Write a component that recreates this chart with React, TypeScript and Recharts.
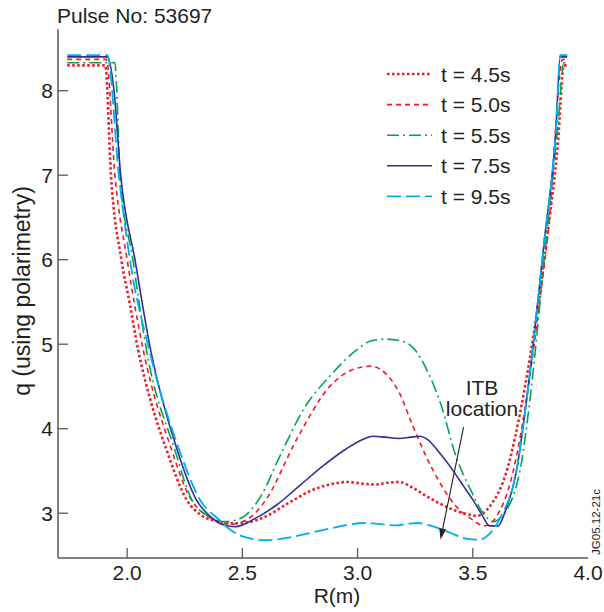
import { LineChart, Line, XAxis, YAxis, ReferenceLine } from 'recharts';

// R (m), q pairs
const t45: [number, number][] = [
  [1.74, 8.3], [1.905, 8.3], [1.93, 7.0], [1.975, 6.0], [2.01, 5.5], [2.048, 4.93], [2.1, 4.35],
  [2.171, 3.75], [2.258, 3.16], [2.32, 2.98], [2.38, 2.91], [2.45, 2.88], [2.52, 2.89], [2.6, 2.96],
  [2.7, 3.12], [2.8, 3.27], [2.88, 3.34], [2.96, 3.37], [3.02, 3.35], [3.08, 3.34], [3.13, 3.36],
  [3.18, 3.37], [3.24, 3.3], [3.3, 3.2], [3.39, 3.07], [3.46, 3.0], [3.52, 2.97], [3.573, 3.08],
  [3.645, 3.48], [3.724, 4.46], [3.821, 6.24], [3.87, 7.4], [3.895, 8.3], [3.91, 8.3],
];
const t50: [number, number][] = [
  [1.74, 8.37], [1.91, 8.37], [1.947, 7.0], [2.0, 6.0], [2.07, 4.93], [2.193, 3.75], [2.27, 3.2],
  [2.33, 3.0], [2.4, 2.9], [2.45, 2.87], [2.518, 2.92], [2.6, 3.15], [2.735, 3.87], [2.879, 4.5],
  [2.98, 4.7], [3.06, 4.74], [3.1, 4.7], [3.182, 4.42], [3.24, 4.03], [3.327, 3.51], [3.428, 3.08],
  [3.5, 2.92], [3.55, 2.85], [3.6, 2.95], [3.674, 3.48], [3.73, 4.3], [3.79, 5.5], [3.83, 6.4],
  [3.89, 8.37], [3.91, 8.37],
];
const t55: [number, number][] = [
  [1.74, 8.33], [1.947, 8.33], [1.955, 8.0], [1.969, 7.0], [2.025, 6.0], [2.084, 4.93], [2.207, 3.75],
  [2.28, 3.16], [2.35, 2.97], [2.43, 2.9], [2.5, 2.95], [2.58, 3.2], [2.662, 3.67], [2.77, 4.25],
  [2.879, 4.62], [2.995, 4.93], [3.06, 5.04], [3.125, 5.06], [3.2, 5.03], [3.25, 4.93], [3.3, 4.7],
  [3.36, 4.3], [3.43, 3.65], [3.49, 3.28], [3.54, 3.02], [3.59, 2.9], [3.62, 2.95], [3.703, 3.48],
  [3.753, 4.46], [3.818, 6.24], [3.87, 7.6], [3.895, 8.33], [3.91, 8.33],
];
const t75: [number, number][] = [
  [1.74, 8.4], [1.914, 8.4], [1.943, 8.0], [1.972, 7.0], [2.034, 6.0], [2.102, 4.93],
  [2.217, 3.75], [2.3, 3.16], [2.37, 2.94], [2.42, 2.86], [2.47, 2.84], [2.55, 2.93], [2.65, 3.1],
  [2.75, 3.33], [2.85, 3.56], [2.95, 3.76], [3.02, 3.87], [3.067, 3.91], [3.12, 3.9], [3.18, 3.885],
  [3.23, 3.9], [3.27, 3.91], [3.3, 3.88], [3.36, 3.7], [3.413, 3.51], [3.46, 3.32], [3.5, 3.16],
  [3.54, 2.98], [3.573, 2.85], [3.61, 2.85], [3.638, 3.0], [3.688, 3.48], [3.739, 4.46], [3.811, 6.24],
  [3.86, 7.5], [3.88, 8.4], [3.91, 8.4],
];
const t95: [number, number][] = [
  [1.74, 8.42], [1.914, 8.42], [1.964, 7.0], [2.012, 6.0], [2.096, 4.93], [2.226, 3.75], [2.316, 3.16],
  [2.4, 2.92], [2.45, 2.8], [2.52, 2.71], [2.6, 2.68], [2.7, 2.71], [2.8, 2.77], [2.9, 2.83],
  [2.97, 2.87], [3.038, 2.884], [3.1, 2.87], [3.168, 2.856], [3.22, 2.875], [3.262, 2.884], [3.32, 2.85],
  [3.4, 2.77], [3.47, 2.7], [3.529, 2.686], [3.57, 2.75], [3.62, 2.95], [3.688, 3.48], [3.739, 4.46],
  [3.811, 6.24], [3.86, 7.5], [3.88, 8.42], [3.91, 8.42],
];

const rTicks = [2.0, 2.5, 3.0, 3.5, 4.0];
const qTicks = [3, 4, 5, 6, 7, 8];
const labels = ['t = 4.5s', 't = 5.0s', 't = 5.5s', 't = 7.5s', 't = 9.5s'];

// ITB arrow, tail -> head, in (R, q)
const itbArrow = [{ x: 3.46, y: 4.02 }, { x: 3.36, y: 2.69 }];

const profiles = [t45, t50, t55, t75, t95];
const styles = [
  { color: '#ed1c24', dash: '2.5 2.5', width: 2.6 },
  { color: '#ed1c24', dash: '5 4', width: 1.6 },
  { color: '#00a651', dash: '12 4 2 4', width: 1.6 },
  { color: '#2e3192', dash: undefined, width: 1.6 },
  { color: '#00aeef', dash: '14 5', width: 1.8 },
];

const FONT = '"Liberation Sans", Arial, Helvetica, sans-serif';
const INK = '#231f20';
const FRAME = '#58595b';

const toPts = (arr: [number, number][]) => arr.map(([r, q]) => ({ r, q }));

const XTick = (p: any) => {
  const { x, y, payload } = p;
  const ay = y - 6;
  return (
    <g>
      {payload.value < 3.9 && <line x1={x} x2={x} y1={ay} y2={ay - 10} stroke={FRAME} strokeWidth={1.3} />}
      <text x={x} y={y} dy="0.74em" textAnchor="middle" fontSize={21} fontFamily={FONT} fill={INK}>
        {payload.value.toFixed(1)}
      </text>
    </g>
  );
};

const YTick = (p: any) => {
  const { x, y, payload } = p;
  const ax = x + 5;
  return (
    <g>
      <line x1={ax} x2={ax + 10} y1={y} y2={y} stroke={FRAME} strokeWidth={1.3} />
      <text x={x} y={y} dy="0.36em" textAnchor="end" fontSize={21} fontFamily={FONT} fill={INK}>
        {payload.value}
      </text>
    </g>
  );
};

const Arrow = (p: any) => {
  const { x1, y1, x2, y2 } = p;
  const a = Math.atan2(y2 - y1, x2 - x1);
  const L = 11, W = 3.5;
  const bx = x2 - L * Math.cos(a), by = y2 - L * Math.sin(a);
  const nx = -Math.sin(a) * W, ny = Math.cos(a) * W;
  return (
    <g>
      <line x1={x1} y1={y1} x2={bx} y2={by} stroke={INK} strokeWidth={1.1} />
      <polygon points={`${x2},${y2} ${bx + nx},${by + ny} ${bx - nx},${by - ny}`} fill={INK} />
    </g>
  );
};

export default function App() {
  return (
    <div style={{ position: 'absolute', left: 0, top: 0, width: 604, height: 612, background: '#fff' }}>
      <LineChart width={604} height={612} margin={{ top: 29, right: 16, bottom: 0, left: 0 }}>
        <XAxis
          dataKey="r"
          type="number"
          domain={[1.7, 4.0]}
          ticks={rTicks}
          allowDataOverflow
          height={54}
          tickSize={0}
          tickMargin={6}
          tick={XTick}
          axisLine={{ stroke: FRAME, strokeWidth: 1.5 }}
        />
        <XAxis xAxisId="top" orientation="top" type="number" domain={[1.7, 4.0]} height={0}
          tick={false} tickLine={false} axisLine={{ stroke: FRAME, strokeWidth: 1.5 }} />
        <YAxis
          type="number"
          domain={[2.47, 8.73]}
          ticks={qTicks}
          allowDataOverflow
          width={58}
          tickSize={0}
          tickMargin={5}
          tick={YTick}
          axisLine={{ stroke: FRAME, strokeWidth: 1.5 }}
        />
        <YAxis yAxisId="right" orientation="right" type="number" domain={[2.47, 8.73]} width={0}
          tick={false} tickLine={false} axisLine={{ stroke: FRAME, strokeWidth: 1.5 }} />
        {profiles.map((d, i) => (
          <Line
            key={labels[i]}
            data={toPts(d)}
            dataKey="q"
            name={labels[i]}
            type="monotone"
            stroke={styles[i].color}
            strokeWidth={styles[i].width}
            strokeDasharray={styles[i].dash}
            dot={false}
            activeDot={false}
            isAnimationActive={false}
          />
        ))}
        <ReferenceLine segment={itbArrow} shape={Arrow} ifOverflow="visible" />
      </LineChart>

      <svg width={604} height={612} style={{ position: 'absolute', left: 0, top: 0, pointerEvents: 'none' }}
        fontFamily={FONT} fill={INK}>
        <text x={57} y={23} fontSize={21}>Pulse No: 53697</text>
        <text x={0} y={0} fontSize={23} textAnchor="middle" transform="translate(30,291) rotate(-90)">
          q (using polarimetry)
        </text>
        <text x={337} y={603} fontSize={21} textAnchor="middle">R(m)</text>
        <text x={482} y={395} fontSize={21} textAnchor="middle">ITB</text>
        <text x={482} y={416} fontSize={21} textAnchor="middle">location</text>
        <text x={0} y={0} fontSize={11.5} textAnchor="middle" transform="translate(600,522) rotate(-90)">
          JG05.12-21c
        </text>
        {labels.map((lab, i) => {
          const cy = 74 + i * 30.6;
          return (
            <g key={lab}>
              <line x1={387} x2={432} y1={cy} y2={cy} stroke={styles[i].color}
                strokeWidth={styles[i].width} strokeDasharray={styles[i].dash} />
              <text x={441} y={cy} dy="0.36em" fontSize={21}>{lab}</text>
            </g>
          );
        })}
      </svg>
    </div>
  );
}
